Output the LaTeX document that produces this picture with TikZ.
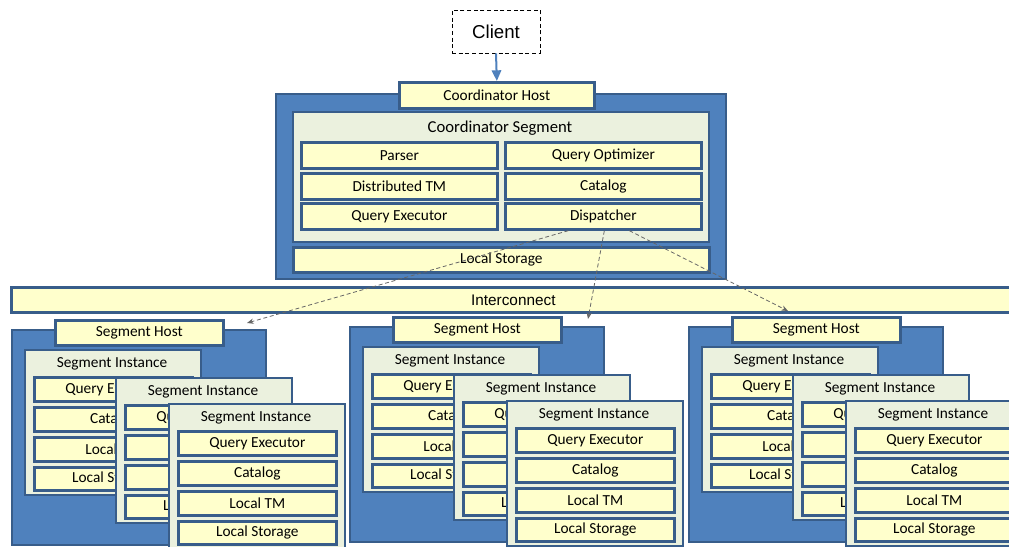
\documentclass[tikz,border=0pt]{standalone}
\usepackage{fontspec}
\setmainfont{Carlito}
\newfontfamily\arialfont{Liberation Sans}
\usetikzlibrary{arrows.meta,calc}
\definecolor{hostblue}{HTML}{4F81BD}
\definecolor{edgeblue}{HTML}{385D8A}
\definecolor{partyellow}{HTML}{FFFFCC}
\definecolor{seggreen}{HTML}{EBF1DE}
\newcommand{\boxnode}[7]{\node[#1, anchor=north west, minimum width=#5*0.75pt, minimum height=#6*0.75pt] (#2) at (#3,#4) {#7};}
\begin{document}
\begin{tikzpicture}[x=0.75pt,y=-0.75pt,font=\fontsize{11.5}{13}\selectfont,
  hostbox/.style={draw=edgeblue,fill=hostblue,line width=1.5pt,inner sep=0pt},
  segbox/.style={draw=edgeblue,fill=seggreen,line width=1.6pt,inner sep=0pt},
  partbox/.style={draw=edgeblue,fill=partyellow,line width=2pt,inner sep=0pt},
  callline/.style={draw=black!60,line width=0.6pt,dash pattern=on 3pt off 2pt,-{Stealth[length=5pt,width=4pt]}}]
  \useasboundingbox (0,0) rectangle (1009,546);
  \clip (0,0) rectangle (1009,546);
  \node[draw,fill=white,line width=0.6pt,dash pattern=on 3pt off 2pt,minimum width=88*0.75pt,minimum height=43*0.75pt,font=\arialfont\fontsize{14}{16}\selectfont] (client) at (496,31.5) {Client};
  \boxnode{hostbox}{coordhost}{275}{93}{450}{185}{}
  \boxnode{partbox}{coordlabel}{398}{81}{195}{26}{Coordinator Host}
  \draw[hostblue,line width=1.5pt,-{Triangle[length=8pt,width=7pt]}] (client.south) -- (coordlabel.north);
  \boxnode{segbox}{coordseg}{292}{111}{416}{130}{}
  \node[font=\fontsize{12.5}{14}\selectfont] (coordtitle) at (500,128) {Coordinator Segment};
  \boxnode{partbox}{parser}{300}{141}{196}{26}{Parser}
  \boxnode{partbox}{optimizer}{504}{141}{196}{26}{Query Optimizer}
  \boxnode{partbox}{dtm}{300}{172}{196}{26}{Distributed TM}
  \boxnode{partbox}{catalog}{504}{172}{196}{26}{Catalog}
  \boxnode{partbox}{qexec}{300}{202}{196}{26}{Query Executor}
  \boxnode{partbox}{disp}{504}{202}{196}{26}{Dispatcher}
  \boxnode{partbox}{coordstore}{292}{246}{416}{25}{Local Storage}
  \boxnode{partbox}{interconnect}{10}{286}{1004}{25}{\arialfont Interconnect}
  \foreach \hx/\hy/\h in {0/0/1,338/-3/2,677/-3/3}{
    \begin{scope}[shift={(\hx,\hy)}]
      \boxnode{hostbox}{h\h}{11}{329}{254}{215}{}
      \boxnode{partbox}{h\h-label}{54}{319}{168}{25}{Segment Host}
      \foreach \ix/\iy/\k in {24/349/1,115/377/2,168/403/3}{
        \boxnode{segbox}{h\h-i\k}{\ix}{\iy}{176}{145}{}
        \node (h\h-i\k-title) at (\ix+88,\iy+15) {Segment Instance};
        \boxnode{partbox}{h\h-i\k-qe}{\ix+9}{\iy+27}{158}{24}{Query Executor}
        \boxnode{partbox}{h\h-i\k-cat}{\ix+9}{\iy+57}{158}{24}{Catalog}
        \boxnode{partbox}{h\h-i\k-tm}{\ix+9}{\iy+87}{158}{24}{Local TM}
        \boxnode{partbox}{h\h-i\k-ls}{\ix+9}{\iy+117}{158}{23}{Local Storage}
      }
    \end{scope}
  }
  \coordinate (tip1) at (247,323);
  \coordinate (tip2) at (588,319);
  \coordinate (tip3) at (788,311);
  \draw[callline] ($(disp.south)+(-35,0)$) -- (tip1);
  \draw[callline] ($(disp.south)+(1,0)$) -- (tip2);
  \draw[callline] ($(disp.south)+(26,0)$) -- (tip3);
\end{tikzpicture}
\end{document}
